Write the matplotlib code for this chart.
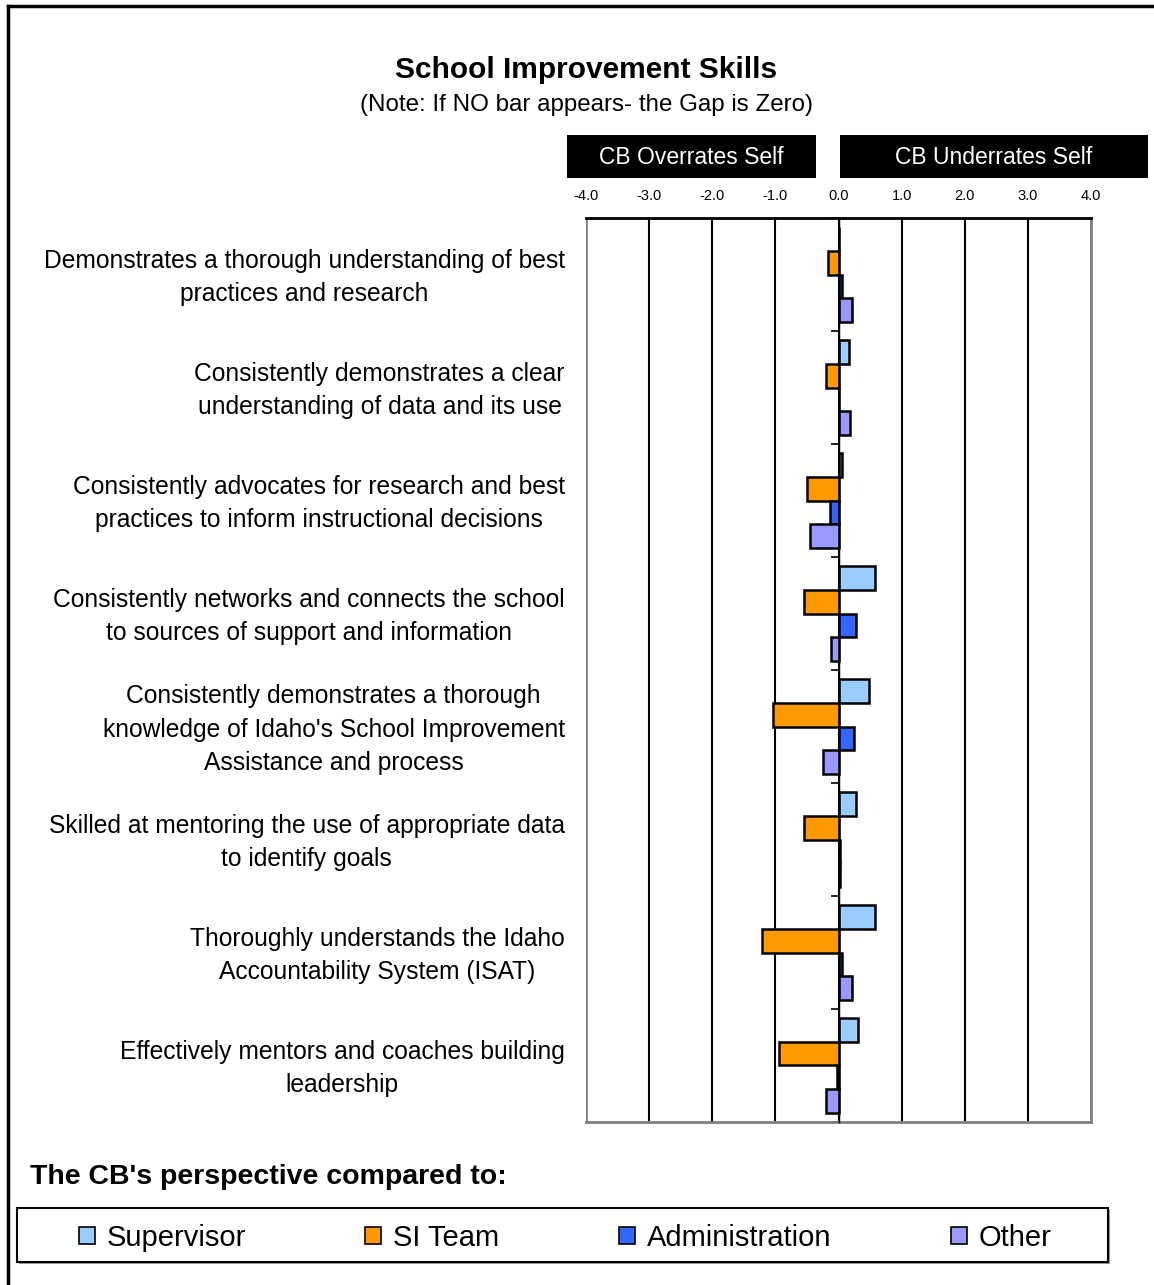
import numpy as np
import matplotlib
matplotlib.use("Agg")
import matplotlib.pyplot as plt
from matplotlib.patches import Patch, Rectangle
from matplotlib.lines import Line2D
from matplotlib.transforms import blended_transform_factory

plt.rcParams['font.family'] = ['Liberation Sans', 'DejaVu Sans']

# skills (top to bottom) and gap values for each comparison group
skills = [
    "Demonstrates a thorough understanding of best\npractices and research",
    "Consistently demonstrates a clear\nunderstanding of data and its use",
    "Consistently advocates for research and best\npractices to inform instructional decisions",
    "Consistently networks and connects the school\nto sources of support and information",
    "Consistently demonstrates a thorough\nknowledge of Idaho's School Improvement\nAssistance and process",
    "Skilled at mentoring the use of appropriate data\nto identify goals",
    "Thoroughly understands the Idaho\nAccountability System (ISAT)",
    "Effectively mentors and coaches building\nleadership",
]
groups = ["Supervisor", "SI Team", "Administration", "Other"]
supervisor = [0.0, 0.16, 0.06, 0.58, 0.49, 0.28, 0.58, 0.31]
si_team = [-0.17, -0.20, -0.50, -0.54, -1.03, -0.54, -1.21, -0.94]
administration = [0.06, 0.0, -0.14, 0.28, 0.25, 0.03, 0.06, -0.03]
other = [0.22, 0.19, -0.45, -0.12, -0.24, 0.03, 0.22, -0.20]
xticks = [-4, -3, -2, -1, 0, 1, 2, 3, 4]

colors = ["#99CCFF", "#FF9900", "#3366FF", "#9999FF"]
series = [supervisor, si_team, administration, other]

W, H = 1154, 1285
fig = plt.figure(figsize=(W / 100, H / 100), dpi=100)


def fx(px):
    return px / W


def fy(py):
    return 1 - py / H


ax = fig.add_axes([fx(586), fy(1122), fx(1091) - fx(586), fy(218) - fy(1122)])

y = np.arange(len(skills))
bh = 0.212
for i, (vals, c) in enumerate(zip(series, colors)):
    ax.barh(y + (i - 1.5) * bh, vals, height=bh, color=c,
            edgecolor="black", linewidth=1.8, zorder=3)

ax.set_xlim(-4, 4)
ax.set_ylim(len(skills) - 0.5, -0.5)

# value scale on top
ax.xaxis.tick_top()
ax.set_xticks(xticks)
ax.set_xticklabels([f"{t:.1f}" for t in xticks])
ax.tick_params(axis="x", length=0, pad=11, labelsize=10.5)
ax.grid(axis="x", color="black", linewidth=1.5, zorder=1)
for gl, t in zip(ax.get_xgridlines(), xticks):
    if abs(t) == 4:
        gl.set_color("#808080")
        gl.set_linewidth(2)

# category axis sits on the zero line
ax.spines["left"].set_position(("data", 0))
ax.spines["left"].set_linewidth(1)
ax.spines["left"].set_zorder(4)
ax.set_yticks(np.arange(-0.5, len(skills)))
ax.set_yticklabels([])
ax.tick_params(axis="y", length=6, width=1.2, direction="out")
ax.spines["top"].set_linewidth(2)
for s in ["right", "bottom"]:
    ax.spines[s].set_color("#808080")
    ax.spines[s].set_linewidth(2)

lab_tr = blended_transform_factory(ax.transAxes, ax.transData)
for yy, s in zip(y, skills):
    ax.text(-0.042, yy + 0.027, s, transform=lab_tr, ha="right", va="center",
            multialignment="center", fontsize=17.7, linespacing=1.52)

# titles
fig.text(fx(586), fy(70), "School Improvement Skills", ha="center",
         va="center", fontsize=21.5, fontweight="bold")
fig.text(fx(586), fy(105), "(Note: If NO bar appears- the Gap is Zero)",
         ha="center", va="center", fontsize=17.4)

# direction headers
for x0, x1, txt in [(567, 816, "CB Overrates Self"),
                    (840, 1148, "CB Underrates Self")]:
    fig.patches.append(Rectangle((fx(x0), fy(178)), fx(x1) - fx(x0),
                                 fy(135) - fy(178), transform=fig.transFigure,
                                 facecolor="black", edgecolor="none"))
    fig.text(fx((x0 + x1) / 2), fy(158), txt, color="white", ha="center",
             va="center", fontsize=16.5)

# legend
fig.text(fx(30), fy(1177), "The CB's perspective compared to:", ha="left",
         va="center", fontsize=20.5, fontweight="bold")
fig.patches.append(Rectangle((fx(19), fy(1264)), fx(1108) - fx(17),
                             fy(1208) - fy(1262), transform=fig.transFigure,
                             facecolor="#999999", edgecolor="none"))
fig.patches.append(Rectangle((fx(17), fy(1262)), fx(1108) - fx(17),
                             fy(1208) - fy(1262), transform=fig.transFigure,
                             facecolor="white", edgecolor="black", linewidth=1.5))
handles = [Patch(facecolor=c, edgecolor="black", linewidth=1.2) for c in colors]
fig.legend(handles, groups, loc="center", bbox_to_anchor=(fx(565), fy(1238)),
           ncol=4, frameon=False, fontsize=21, handlelength=0.55,
           handleheight=0.55, handletextpad=0.4, columnspacing=4.1)

# outer frame
fig.lines.append(Line2D([fx(8), 1], [fy(6), fy(6)], transform=fig.transFigure,
                        color="black", linewidth=2.5))
fig.lines.append(Line2D([fx(8), fx(8)], [0, fy(6)], transform=fig.transFigure,
                        color="black", linewidth=2.5))

fig.savefig("out.png", dpi=100)
